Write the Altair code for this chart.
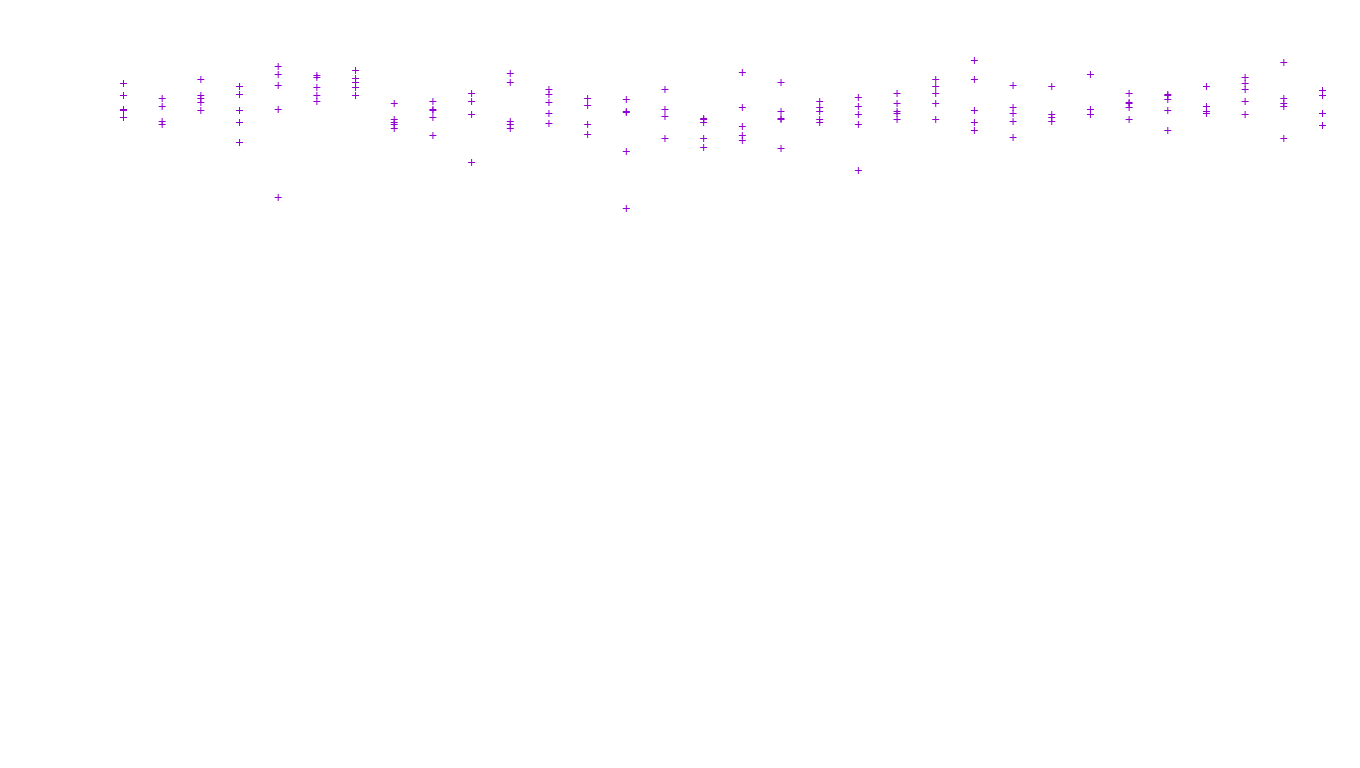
import altair as alt
import pandas as pd

# group index (32 groups) and the readings for each group (top-down position units)
groups = list(range(32))
values = [
    [83, 95, 109, 110, 117],
    [98, 106, 121, 124],
    [79, 95, 98, 102, 110],
    [86, 94, 110, 122, 142],
    [66, 74, 85, 109, 197],
    [75, 77, 87, 95, 101],
    [70, 78, 82, 87, 95],
    [103, 119, 122, 124, 128],
    [101, 109, 110, 117, 135],
    [93, 101, 114, 162],
    [73, 82, 121, 124, 128],
    [89, 94, 102, 113, 123],
    [98, 105, 124, 134],
    [99, 111, 112, 151, 208],
    [89, 109, 116, 138],
    [118, 119, 122, 138, 147],
    [72, 107, 126, 135, 140],
    [82, 111, 118, 119, 148],
    [101, 107, 111, 119, 122],
    [97, 106, 114, 124, 170],
    [93, 103, 111, 113, 119],
    [79, 86, 93, 103, 119],
    [60, 79, 110, 122, 130],
    [85, 107, 113, 121, 137],
    [86, 114, 117, 121],
    [74, 109, 114],
    [93, 102, 103, 107, 119],
    [94, 95, 99, 110, 130],
    [86, 106, 111, 113],
    [77, 83, 89, 101, 114],
    [62, 98, 103, 106, 138],
    [90, 95, 113, 113, 125],
]

rows = []
for g, vals in zip(groups, values):
    for v in vals:
        rows.append({"group": g, "value": v})
df = pd.DataFrame(rows)

plus = "M-1,0L1,0M0,-1L0,1"

chart = alt.Chart(df).mark_point(
    shape=plus, size=49, strokeWidth=1, color="#9400D3", filled=False, opacity=1
).encode(
    x=alt.X("group:Q", axis=None, scale=alt.Scale(domain=[0, 31], range=[123.5, 1322.5], nice=False, zero=False)),
    y=alt.Y("value:Q", axis=None, scale=alt.Scale(domain=[0, 768], range=[0.5, 768.5], nice=False, zero=False)),
).properties(
    width=1360, height=768, autosize=alt.AutoSizeParams(type="none"), padding=0
).configure_view(stroke=None)

chart.save("out.html", embed_options={"renderer": "svg", "actions": False})
